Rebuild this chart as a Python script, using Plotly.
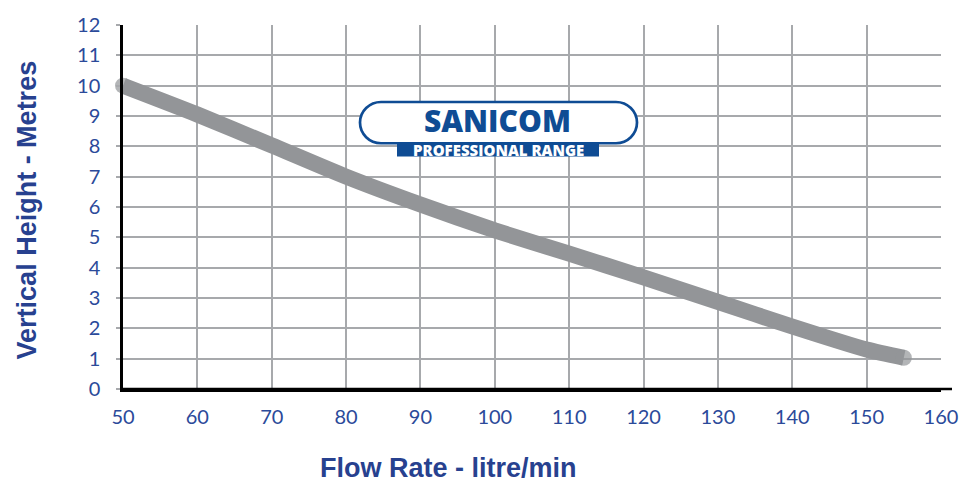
import plotly.graph_objects as go

# ---- data ----
flow_rate = [50, 60, 70, 80, 90, 100, 110, 120, 130, 140, 150, 155]
vertical_height = [10.0, 9.05, 8.03, 7.0, 6.08, 5.23, 4.46, 3.68, 2.87, 2.06, 1.3, 1.03]
x_ticks = [50, 60, 70, 80, 90, 100, 110, 120, 130, 140, 150, 160]
y_ticks = list(range(0, 13))
x_title = "Flow Rate - litre/min"
y_title = "Vertical Height - Metres"
logo_main = "SANICOM"
logo_sub = "PROFESSIONAL RANGE"

W, H = 975, 486
ML, MR, MT, MB = 123, 34, 18, 97
PW = W - ML - MR
PH = H - MT - MB

BLUE = "#2b4a9a"
LOGO_BLUE = "#0f4c94"
GRID = "#a7a9ac"
LINE = "#939598"


def px(x):
    return (x - ML) / PW


def py(y):
    return (H - MB - y) / PH


def pill_path(L, R, T, B):
    r = (B - T) / 2
    k = 0.5523 * r
    cy = (T + B) / 2
    s = f"M {px(L + r)},{py(T)} L {px(R - r)},{py(T)} "
    s += f"C {px(R - r + k)},{py(T)} {px(R)},{py(cy - k)} {px(R)},{py(cy)} "
    s += f"C {px(R)},{py(cy + k)} {px(R - r + k)},{py(B)} {px(R - r)},{py(B)} "
    s += f"L {px(L + r)},{py(B)} "
    s += f"C {px(L + r - k)},{py(B)} {px(L)},{py(cy + k)} {px(L)},{py(cy)} "
    s += f"C {px(L)},{py(cy - k)} {px(L + r - k)},{py(T)} {px(L + r)},{py(T)} Z"
    return s


n = len(flow_rate)
marker_sizes = [16] + [0] * (n - 2) + [16]

fig = go.Figure()
fig.add_trace(go.Scatter(
    x=flow_rate, y=vertical_height, mode="lines+markers",
    line=dict(color=LINE, width=16, shape="spline", smoothing=0.6),
    marker=dict(color=LINE, size=marker_sizes, line=dict(width=0)),
    cliponaxis=False, hoverinfo="skip", showlegend=False,
))

tick_font = dict(family="Lato, 'Open Sans', sans-serif", size=20, color=BLUE)
title_font = dict(family="'Liberation Sans Narrow', 'Arial Narrow', sans-serif", size=27, color="#27418f", weight="bold")

fig.update_layout(
    width=W, height=H,
    margin=dict(l=ML, r=MR, t=MT, b=MB, pad=0),
    paper_bgcolor="white", plot_bgcolor="white",
    xaxis=dict(range=[50, 160], tickvals=x_ticks, showgrid=True, gridcolor=GRID, gridwidth=2,
               zeroline=False, showline=True, linecolor="black", linewidth=2.5,
               ticks="", tickfont=tick_font, ticklabelstandoff=8, fixedrange=True),
    yaxis=dict(range=[0, 12], tickvals=y_ticks, showgrid=True, gridcolor=GRID, gridwidth=2,
               zeroline=False, showline=True, linecolor="black", linewidth=2.5,
               ticks="outside", ticklen=4, tickwidth=2, tickcolor=GRID,
               tickfont=tick_font, ticklabelstandoff=12, fixedrange=True),
    shapes=[
        dict(type="line", xref="paper", yref="paper", x0=0, x1=px(952), y0=0, y1=0,
             line=dict(color="black", width=2.5)),
        dict(type="path", xref="paper", yref="paper", path=pill_path(360, 637, 96.5, 138.5),
             fillcolor="white", line=dict(color=LOGO_BLUE, width=2.7), layer="above"),
        dict(type="rect", xref="paper", yref="paper", x0=px(397), x1=px(599), y0=py(152), y1=py(137.5),
             fillcolor=LOGO_BLUE, line=dict(width=0), layer="above"),
    ],
    annotations=[
        dict(text=x_title, xref="paper", yref="paper", x=px(448), y=py(470), showarrow=False,
             font=title_font, xanchor="center", yanchor="middle"),
        dict(text=y_title, xref="paper", yref="paper", x=px(27), y=py(207), showarrow=False,
             font=title_font, textangle=-90, xanchor="center", yanchor="middle"),
        dict(text=logo_main, xref="paper", yref="paper", x=px(497), y=py(115), showarrow=False,
             font=dict(family="'Open Sans', sans-serif", size=30, color=LOGO_BLUE, weight=800),
             xanchor="center", yanchor="middle", borderpad=0),
        dict(text=logo_sub, xref="paper", yref="paper", x=px(498), y=py(145.5), showarrow=False,
             font=dict(family="'Open Sans', sans-serif", size=15, color="white", weight=800),
             xanchor="center", yanchor="middle", borderpad=0),
    ],
)

fig.write_html("out.html", config={"displayModeBar": False},
               post_script="document.body.style.margin='0px';")
